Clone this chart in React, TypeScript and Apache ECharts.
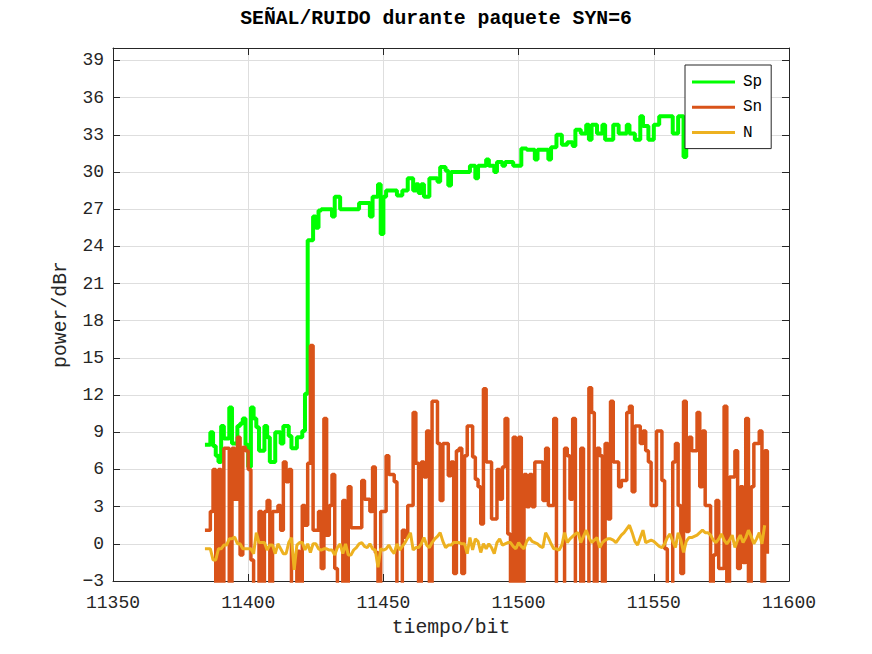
import React, { useEffect, useRef } from "react";
import * as echarts from "echarts";

const TITLE = "SEÑAL/RUIDO durante paquete SYN=6";
const X_LABEL = "tiempo/bit";
const Y_LABEL = "power/dBr";
const SERIES_NAMES = ["Sp", "Sn", "N"];
const X_MIN = 11350;
const X_MAX = 11600;
const X_STEP = 50;
const Y_MIN = -3;
const Y_MAX = 40;
const Y_STEP = 3;

// Sp (step values)
const spX = [
  11384, 11386, 11387, 11388, 11389, 11390, 11391, 11393, 11394, 11396, 11397, 11398, 11399, 11400, 11401,
  11402, 11403, 11404, 11406, 11407, 11408, 11410, 11412, 11413, 11415, 11416, 11418, 11420, 11421, 11422,
  11424, 11425, 11426, 11427, 11431, 11432, 11434, 11441, 11445, 11446, 11448, 11449, 11450, 11451, 11455,
  11457, 11459, 11461, 11462, 11463, 11464, 11465, 11467, 11470, 11471, 11473, 11474, 11475, 11482, 11484,
  11485, 11488, 11489, 11491, 11492, 11494, 11495, 11498, 11501, 11503, 11506, 11507, 11511, 11512, 11514,
  11516, 11518, 11520, 11521, 11523, 11525, 11526, 11527, 11529, 11531, 11532, 11534, 11535, 11537, 11540,
  11541, 11543, 11545, 11546, 11548, 11550, 11552, 11557, 11559, 11561, 11562, 11592,
];
const spY = [
  8.0, 9.0, 7.9, 7.1, 6.6, 9.5, 8.5, 11.0, 8.1, 9.5, 9.7, 10.1, 8.0, 6.2, 11.0,
  10.1, 9.4, 7.5, 9.5, 8.6, 6.6, 9.0, 8.1, 9.5, 8.7, 7.7, 8.6, 9.1, 12.1, 24.5,
  26.4, 25.5, 26.9, 27.0, 26.4, 28.0, 27.0, 27.5, 26.4, 28.0, 29.0, 25.0, 28.0, 28.5, 28.1,
  28.5, 29.5, 28.5, 29.0, 28.3, 29.0, 28.0, 29.5, 29.2, 30.4, 30.1, 28.9, 30.0, 30.5, 29.5,
  30.5, 31.0, 30.5, 30.0, 30.8, 30.5, 30.8, 30.5, 31.9, 31.8, 31.0, 31.8, 31.0, 32.0, 33.0,
  32.2, 32.4, 32.1, 33.4, 33.1, 33.8, 32.6, 33.8, 33.1, 33.8, 32.6, 32.6, 33.8, 33.1, 33.8,
  33.1, 32.6, 34.5, 33.7, 32.6, 33.8, 34.5, 33.1, 34.5, 31.2, 34.5, 34.5,
];

// Sn (step values, below -3 falls outside the axes)
const snX = [
  11384, 11386, 11387, 11388, 11389, 11390, 11391, 11393, 11394, 11395, 11396, 11397, 11398, 11399, 11400,
  11401, 11402, 11404, 11405, 11406, 11407, 11408, 11409, 11411, 11412, 11413, 11414, 11415, 11416, 11418,
  11419, 11420, 11421, 11422, 11423, 11424, 11426, 11427, 11428, 11429, 11430, 11431, 11432, 11433, 11435,
  11436, 11437, 11438, 11442, 11443, 11445, 11446, 11447, 11448, 11449, 11451, 11452, 11454, 11455, 11457,
  11458, 11459, 11461, 11462, 11463, 11464, 11465, 11466, 11467, 11468, 11470, 11471, 11472, 11474, 11475,
  11476, 11477, 11478, 11479, 11480, 11481, 11483, 11484, 11485, 11486, 11487, 11488, 11490, 11492, 11493,
  11494, 11495, 11496, 11497, 11498, 11499, 11500, 11501, 11502, 11503, 11504, 11505, 11506, 11509, 11510,
  11511, 11513, 11514, 11517, 11518, 11519, 11520, 11521, 11523, 11524, 11526, 11527, 11528, 11529, 11530,
  11531, 11532, 11533, 11534, 11535, 11537, 11538, 11540, 11541, 11542, 11543, 11545, 11546, 11547, 11548,
  11549, 11551, 11553, 11554, 11555, 11557, 11558, 11559, 11560, 11561, 11562, 11563, 11564, 11566, 11567,
  11568, 11569, 11571, 11572, 11573, 11574, 11576, 11577, 11578, 11580, 11581, 11582, 11583, 11584, 11585,
  11586, 11587, 11589, 11590, 11591, 11592,
];
const snY = [
  1.1, 2.6, 6.0, -5, 6.0, -5, 7.7, -5, 7.7, 3.6, 8.6, -0.9, 7.8, 7.5, 6.0,
  -1.3, -5, 2.6, -5, 2.6, 3.5, -5, 2.6, 3.1, 1.1, 6.6, 5.0, 6.0, -5, -0.6,
  -5, 3.1, 1.5, 6.5, 16, 1.1, 2.6, -2, 10.1, 0.7, 3.1, 5.6, -2, -5, 3.5,
  -5, 4.6, 1.3, 5.1, 3.6, 2.6, 6.2, -0.7, -5, 2.6, 7.1, 5.6, 5.0, -5, 1.1,
  0.5, 3.1, 10.6, 6.5, -5, 6.6, 5.4, 9.1, -5, 11.5, 8.1, 3.5, 8.1, 5.5, 6.6,
  -2.4, 7.5, 7.7, -2.4, 7.1, 9.5, 7.0, 5.2, 4.6, 1.6, 12.5, 6.6, 2.0, 6.0, 3.6,
  6.2, 10.1, 0.8, -5, 8.6, -5, 8.6, -5, 5.6, 3.0, 5.6, 3.0, 6.6, 3.5, 7.7,
  3.1, 10.1, -5, 7.7, 7.1, 3.6, 10.1, -5, 7.7, -5, 12.6, 10.6, -5, 7.7, 7.1,
  -5, 8.1, 2.0, 11.5, 6.6, 4.6, 5.1, 10.6, 11.1, 4.2, 9.5, 8.1, 9.1, 7.5, 6.6,
  3.1, 9.1, 5.1, -0.4, -5, 6.6, 8.1, 3.1, -2.4, 11.5, 1.0, 8.6, 7.5, 10.6, 4.6,
  9.1, 3.1, -5, -0.9, 3.5, -2, 11.1, -5, 5.4, 7.5, -2, 4.6, -1.5, 10.1, -5,
  4.6, 8.1, 9.1, -5, 7.5, -0.8,
];

// N (one value per bit, starting at N_START)
const N_START = 11384;
const nY = [
  -0.4, -0.4, -0.4, -1.3, -1.3, -0.4, -0.4, -0.1, -0.1, 0.4,
  0.4, 0.55, 0, 0, -0.4, -0.4, -0.4, -0.4, -0.8, 0.9,
  0.1, 0.1, 0.1, -0.5, -0.1, -0.1, -0.8, 0, -0.4, -0.8,
  -0.8, 0.1, 0.5, -2.1, -0.1, 0.1, 0.1, -0.5, 0, -0.7,
  0, 0, -0.4, -0.5, -0.4, -0.4, -0.5, -0.5, -0.9, -0.3,
  0, -0.8, 0, -0.9, -0.9, -0.5, -0.3, 0, 0.1, -0.2,
  -0.3, 0, -0.4, -0.5, -1.9, -0.4, -0.5, -0.4, -0.1, -0.5,
  -0.8, 0, -0.5, -0.2, 0.1, 0.5, 0.9, -0.5, -0.3, -0.3,
  0, 0.5, -0.1, -0.3, 0.1, 0.4, 0.6, 0.9, 0.2, -0.3,
  -0.1, -0.1, 0.1, 0.1, 0.1, 0, 0, -0.8, 0.5, -0.5,
  0.4, 0.2, -0.7, 0, -0.4, 0, -0.3, -0.8, 0.1, 0.4,
  -0.1, 0, 0.1, 0.1, -0.2, -0.4, 0.1, -0.2, -0.4, 0.2,
  0.5, 0.2, 0.1, 0, -0.2, -0.3, 0.9, 0.5, 0, -0.4,
  -0.4, -0.5, -0.1, 0.9, 0.1, 0.4, 0.6, 0.8, 0.9, 0.1,
  0.6, 1.1, 0.5, 0.1, 0.3, 0.5, -0.3, 0.1, 0.3, 0.4,
  0.4, 0.3, 0.1, 0.4, 0.7, 0.9, 1.2, 1.5, 0.9, 0.2,
  -0.1, 0.5, 1.1, 0.1, 0.2, 0.3, 0.2, 0, -0.2, -0.3,
  0, 0.5, 0.8, 0.2, -0.3, 0.9, 0.3, -0.7, 0.2, 0.5,
  0.5, 0.6, 0.7, 0.9, 1.1, 0.9, 0.9, 0.7, 0.3, 0.1,
  0.4, 0.8, 0.3, 0, 0.3, 0.7, -0.3, 0.3, 0.7, 0.1,
  0.5, 1.1, 0.6, 0, 0.4, 0.9, 0, 1.5,
];

const COLORS = ["#00ff00", "#d95319", "#edb120"];
const FONT = "'Liberation Mono', 'Courier New', monospace";
const AXIS_COLOR = "#262626";
const GRID_COLOR = "#dedede";

const minus = (v: number) => String(v).replace("-", "\u2212");

export default function App() {
  const ref = useRef<HTMLDivElement>(null);

  useEffect(() => {
    if (!ref.current) return;
    const chart = echarts.init(ref.current, undefined, { renderer: "svg" });

    const spData = spX.map((x, i) => [x, spY[i]]);
    const snData = snX.map((x, i) => [x, snY[i]]);
    const nData = nY.map((y, i) => [N_START + i, y]);

    const baseX = {
      type: "value",
      min: X_MIN,
      max: X_MAX,
      interval: X_STEP,
      axisLine: { show: true, onZero: false, lineStyle: { color: AXIS_COLOR, width: 1 } },
      axisTick: { show: true, inside: true, length: 7, lineStyle: { color: AXIS_COLOR } },
    };
    const baseY = {
      type: "value",
      min: Y_MIN,
      max: Y_MAX,
      interval: Y_STEP,
      axisLine: { show: true, onZero: false, lineStyle: { color: AXIS_COLOR, width: 1 } },
      axisTick: { show: true, inside: true, length: 7, lineStyle: { color: AXIS_COLOR } },
    };

    chart.setOption({
      animation: false,
      backgroundColor: "#ffffff",
      title: {
        text: TITLE,
        left: "center",
        top: 9,
        padding: 0,
        textStyle: { fontFamily: FONT, fontSize: 19.8, fontWeight: "bold", color: "#000" },
      },
      legend: {
        data: SERIES_NAMES,
        orient: "vertical",
        left: 685,
        top: 65,
        padding: [9, 9, 8, 7],
        itemGap: 9.3,
        itemWidth: 43,
        itemHeight: 3,
        icon: "rect",
        backgroundColor: "#ffffff",
        borderColor: AXIS_COLOR,
        borderWidth: 1,
        borderRadius: 0,
        textStyle: { fontFamily: FONT, fontSize: 16, color: "#000", padding: [0, 0, 0, 3] },
      },
      grid: { left: 113, right: 83, top: 48, bottom: 73, containLabel: false },
      xAxis: [
        {
          ...baseX,
          position: "bottom",
          name: X_LABEL,
          nameLocation: "middle",
          nameGap: 37,
          nameTextStyle: { fontFamily: FONT, fontSize: 19.8, color: AXIS_COLOR },
          axisLabel: { fontFamily: FONT, fontSize: 18, color: AXIS_COLOR, margin: 13, formatter: minus },
          splitLine: { show: true, lineStyle: { color: GRID_COLOR, width: 1 } },
        },
        {
          ...baseX,
          position: "top",
          axisLabel: { show: false },
          splitLine: { show: false },
        },
      ],
      yAxis: [
        {
          ...baseY,
          position: "left",
          name: Y_LABEL,
          nameLocation: "middle",
          nameGap: 38,
          nameTextStyle: { fontFamily: FONT, fontSize: 19.8, color: AXIS_COLOR },
          axisLabel: {
            fontFamily: FONT,
            fontSize: 18,
            color: AXIS_COLOR,
            margin: 9,
            showMaxLabel: false,
            formatter: minus,
          },
          splitLine: { show: true, lineStyle: { color: GRID_COLOR, width: 1 } },
        },
        {
          ...baseY,
          position: "right",
          axisLabel: { show: false },
          splitLine: { show: false },
        },
      ],
      series: [
        {
          name: SERIES_NAMES[0],
          type: "line",
          step: "end",
          data: spData,
          showSymbol: false,
          symbol: "none",
          color: COLORS[0],
          lineStyle: { width: 4, color: COLORS[0] },
          clip: true,
        },
        {
          name: SERIES_NAMES[1],
          type: "line",
          step: "end",
          data: snData,
          showSymbol: false,
          symbol: "none",
          color: COLORS[1],
          lineStyle: { width: 3.5, color: COLORS[1] },
          clip: true,
        },
        {
          name: SERIES_NAMES[2],
          type: "line",
          data: nData,
          showSymbol: false,
          symbol: "none",
          color: COLORS[2],
          lineStyle: { width: 3, color: COLORS[2] },
          clip: true,
        },
      ],
    });

    return () => chart.dispose();
  }, []);

  return (
    <div
      ref={ref}
      style={{ position: "fixed", left: 0, top: 0, width: 872, height: 654, background: "#fff" }}
    />
  );
}
